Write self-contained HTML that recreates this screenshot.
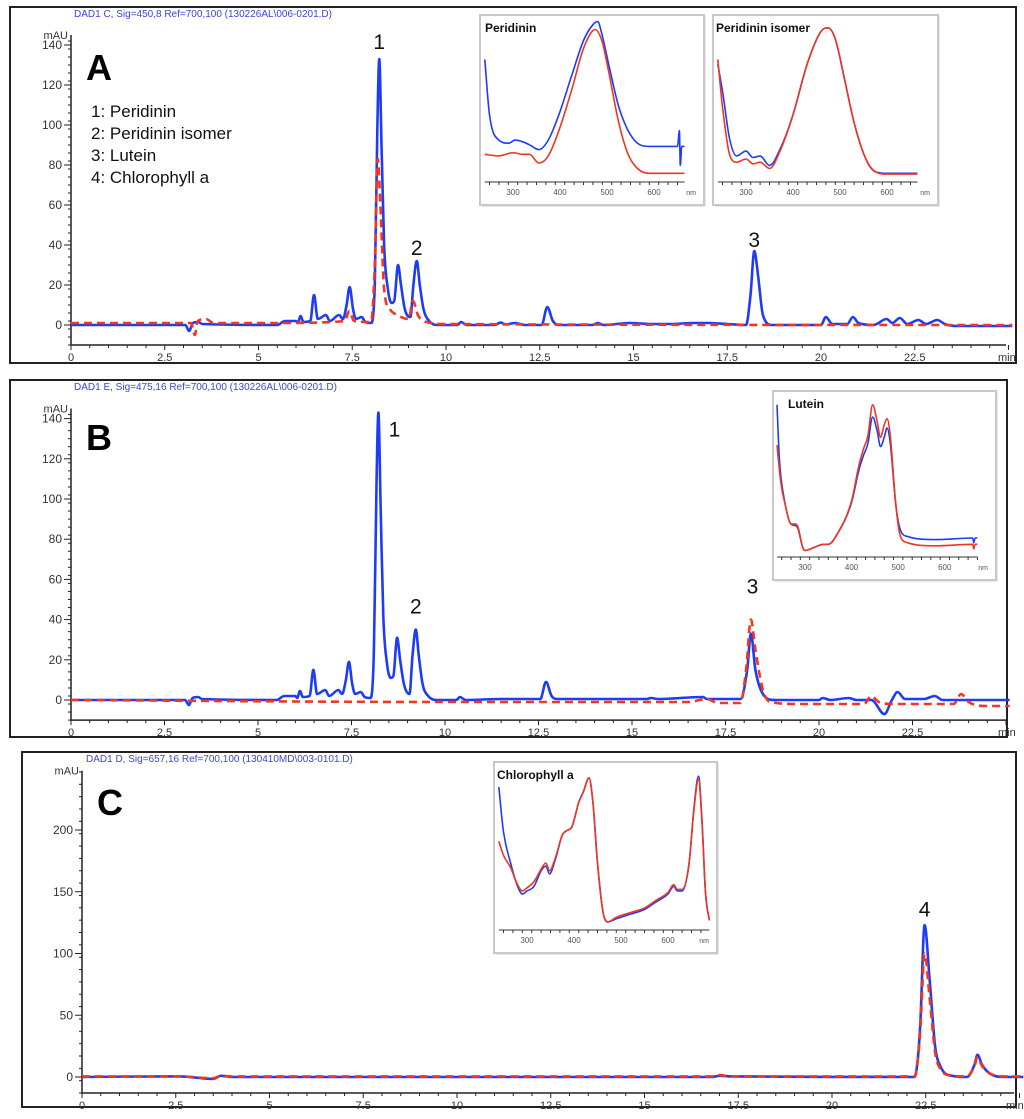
<!DOCTYPE html>
<html><head><meta charset="utf-8"><style>
html,body{margin:0;padding:0;background:#fff;}
svg{display:block;font-family:"Liberation Sans",sans-serif;}
</style></head><body>
<svg id="fig" width="1024" height="1119" viewBox="0 0 1024 1119">
<g id="layer"></g>
</svg>
<script>
// ---------- Chromatogram data (time min, mAU) ----------
const aBlueT=[0,3.05,3.15,3.25,3.4,3.5,5.5,5.7,6.0,6.05,6.12,6.2,6.38,6.48,6.58,6.8,6.9,7.15,7.25,7.35,7.43,7.52,7.6,7.75,7.85,8.0,8.1,8.17,8.22,8.28,8.35,8.45,8.55,8.62,8.72,8.8,8.9,9.05,9.13,9.22,9.3,9.4,9.55,9.8,10.3,10.4,10.55,11.3,11.45,11.6,11.85,12.1,12.55,12.7,12.85,13.0,13.9,14.05,14.2,14.9,15.5,16.0,16.6,17.0,17.5,18.0,18.12,18.22,18.32,18.45,18.7,20.0,20.13,20.3,20.7,20.85,21.0,21.4,21.75,21.9,22.1,22.3,22.6,22.8,23.1,23.3,23.6,25.1];
const aBlueV=[0,0,-3,1,1.5,0.5,0,2,2,1,4.5,1.5,2,15,3,5,2,5,3,10,19,8,3,4,1.5,1,20,100,133,90,40,18,11,12,30,20,8,4,20,32,20,8,2,0,0,1.5,0,0,1.2,0.3,1,0,0,9,2,0,0,1,0,1,0.5,0.5,1,1,0.5,0,15,37,25,5,0,0,4,0.5,0.5,4,1,0,3,1,3.5,0.5,2.5,0.5,2.5,0.5,-0.5,-0.5];
const aRedT=[0,3.2,3.3,3.38,3.6,3.8,5.5,7.3,7.42,7.55,8.0,8.1,8.18,8.25,8.35,8.5,8.7,9.0,9.12,9.25,9.4,10,25.1];
const aRedV=[1,1,-5,2,3,1,1,2,7,2,1.5,30,83,60,18,8,5,3,12,5,2,0.5,0];

const bBlueT=[0,3.05,3.15,3.25,3.4,3.5,5.5,5.7,6.0,6.05,6.12,6.2,6.38,6.48,6.58,6.8,6.9,7.15,7.25,7.35,7.43,7.52,7.6,7.75,7.85,8.0,8.1,8.17,8.22,8.28,8.35,8.45,8.55,8.62,8.72,8.8,8.9,9.05,9.13,9.22,9.3,9.4,9.55,9.8,10.3,10.4,10.55,11.5,12.55,12.7,12.85,13.0,15.4,15.5,15.7,16.9,17.0,17.9,18.08,18.18,18.3,18.5,18.8,20.0,20.1,20.3,20.8,21.0,21.4,21.75,21.95,22.1,22.3,22.8,23.1,23.3,25.1];
const bBlueV=[0,0,-2.5,1,1.5,0.5,0,2,2,1,4.5,1.5,2,15,3,5,2,5,3,10,19,8,3,4,1.5,1,25,110,143,95,42,18,11,12,31,20,8,3,22,35,22,8,2,0,0,1.5,0,0.5,0.5,9,2,0.5,0.5,1,0.5,1.5,0.5,0.5,15,33,15,3,0,0,1,0,1,0,0,-7,0,4,0.5,0.5,2,0,0];
const bRedT=[0,10,16.5,17.0,17.3,17.9,18.05,18.18,18.3,18.5,18.7,19.5,21.2,21.4,21.6,22.0,23.6,23.8,24.0,24.5,25.1];
const bRedV=[0,-1,-1,0.5,-1.5,-1.5,15,40,25,5,-1,-2,-2,2,-1,-2,-2,3,-1,-3,-3];

const cBlueT=[0,2.3,2.6,3.5,3.7,4,16.8,17.0,17.3,22.2,22.35,22.47,22.6,22.75,22.9,23.2,23.6,23.8,23.88,24.0,24.2,24.6,25.1];
const cBlueV=[0,0.5,0.5,-1.5,1,0,0,1,0.5,0,40,123,80,25,8,1,0,10,18,10,3,0,0];
const cRedT=[0,2.3,2.6,3.5,3.7,4,16.8,17.0,17.3,22.2,22.35,22.47,22.6,22.75,22.9,23.2,23.6,23.8,23.88,24.0,24.2,24.6,25.1];
const cRedV=[0.5,0.5,0.5,-1,1,0.5,0.5,1.5,0.5,0.5,35,100,65,20,6,1,0.5,9,16,9,3,0.5,0.5];

// ---------- Spectra data (nm, relative absorbance 0-100) ----------
const perBlueNm=[240,250,270,290,305,320,335,355,375,400,425,450,470,480,490,505,525,545,565,590,650,654,656,659,665];
const perBlueA=[75,40,24,22,24,23,21,18,24,42,65,87,97,99,90,70,45,30,22,20,20,30,8,20,20];
const perRedNm=[240,270,300,320,335,355,375,400,425,450,475,490,505,525,545,565,590,665];
const perRedA=[15,14,16,15,15,9.5,14,32,56,82,94,86,65,35,15,6,3,3];
const isoBlueNm=[240,250,265,280,300,315,330,350,375,400,430,460,475,490,510,530,555,575,600,665];
const isoBlueA=[72,55,25,14,17,13,14,8,20,40,72,93,95,88,62,35,12,4,3,3];
const isoRedNm=[240,250,265,280,300,315,330,350,375,400,430,460,475,490,510,530,555,575,600,665];
const isoRedA=[75,45,15,10,12,9,10,6,19,40,72,93,95,88,62,35,12,4,2.5,2.5];
const lutBlueNm=[240,245,255,270,280,285,295,300,320,340,350,370,400,415,425,435,445,455,462,470,476,483,495,505,520,580,660,662,665,670];
const lutBlueA=[95,60,35,18,17,15,3,1,3,5,5,12,32,52,62,70,87,78,68,74,80,70,30,14,10,8,9,6,9,9];
const lutRedNm=[240,248,258,270,280,285,295,300,320,340,350,370,400,415,425,435,445,455,462,470,476,483,495,505,520,580,660,662,665,670];
const lutRedA=[69,45,30,18,18,16,3,1,3,5,5,12,33,55,66,75,95,84,74,82,86,75,30,10,6,4,5,2,5,5];
const chlBlueNm=[240,250,265,280,290,300,315,330,340,348,360,375,385,395,410,420,432,440,450,462,472,490,520,550,575,600,612,620,630,645,655,665,672,680,688];
const chlBlueA=[89,60,40,25,20,22,25,35,38,33,42,58,61,63,79,86,95,80,40,8,2,4,7,10,15,20,25,22,22,40,75,96,70,20,3];
const chlRedNm=[240,250,265,280,290,300,315,330,340,348,360,375,385,395,410,420,432,440,450,462,472,490,520,550,575,600,612,620,630,645,655,665,672,680,688];
const chlRedA=[54,45,37,26,22,24,28,36,40,35,43,58,61,63,79,86,95,80,40,8,2,5,8,11,16,21,26,23,23,40,74,94,68,20,3];

const xTicks=[0,2.5,5,7.5,10,12.5,15,17.5,20,22.5];
const xTickLabels=["0","2.5","5","7.5","10","12.5","15","17.5","20","22.5"];
const abYTicks=[0,20,40,60,80,100,120,140];
const cYTicks=[0,50,100,150,200];
const nmTicks=[300,400,500,600];

const NS="http://www.w3.org/2000/svg";
const layer=document.getElementById('layer');
function mk(tag,attrs,parent){const e=document.createElementNS(NS,tag);for(const k in attrs)e.setAttribute(k,attrs[k]);(parent||layer).appendChild(e);return e;}
function txt(s,attrs,parent){const e=mk('text',attrs,parent);e.textContent=s;return e;}
// monotone cubic path through pixel points
function pathFrom(xs,ys,fx,fy){
  const X=xs.map(fx),Y=ys.map(fy),n=X.length;
  if(n<3){let d='';for(let i=0;i<n;i++)d+=(i?'L':'M')+X[i]+','+Y[i];return d;}
  const dl=[],m=new Array(n);
  for(let i=0;i<n-1;i++)dl.push((Y[i+1]-Y[i])/(X[i+1]-X[i]||1e-6));
  m[0]=dl[0];m[n-1]=dl[n-2];
  for(let i=1;i<n-1;i++){m[i]=(dl[i-1]*dl[i]<=0)?0:(dl[i-1]+dl[i])/2;}
  for(let i=0;i<n-1;i++){if(dl[i]===0){m[i]=0;m[i+1]=0;continue;}
    const a=m[i]/dl[i],b=m[i+1]/dl[i],s=a*a+b*b;if(s>9){const t=3/Math.sqrt(s);m[i]=t*a*dl[i];m[i+1]=t*b*dl[i];}}
  let d='M'+X[0].toFixed(1)+','+Y[0].toFixed(1);
  for(let i=0;i<n-1;i++){const h=(X[i+1]-X[i])/3;
    d+='C'+(X[i]+h).toFixed(1)+','+(Y[i]+m[i]*h).toFixed(1)+' '+(X[i+1]-h).toFixed(1)+','+(Y[i+1]-m[i+1]*h).toFixed(1)+' '+X[i+1].toFixed(1)+','+Y[i+1].toFixed(1);}
  return d;
}

function panel(p){
  const g=mk('g',{});
  
  
  const fr=mk('rect',{x:p.frame[0],y:p.frame[1],width:p.frame[2]-p.frame[0],height:p.frame[3]-p.frame[1],fill:'none',stroke:'#222','stroke-width':2},g);
  
  
  const X=t=>p.x0+t*p.kx, Y=v=>p.y0-v*p.ky;
  const axY=Y(p.axisMin);
  const title=txt(p.title,{x:p.titleX,y:p.titleY,'font-size':10,fill:'#3a44e0'},g);
  
  
  const ax=mk('path',{d:`M${p.x0},${Y(p.yTop)}V${axY}H${p.xEnd}`,stroke:'#222','stroke-width':1.5,fill:'none'},g);
  
  
  for(let t=0;t<=25.01;t+=0.5){const major=Math.abs(t/2.5-Math.round(t/2.5))<1e-6;mk('line',{x1:X(t),x2:X(t),y1:axY,y2:axY+(major?5:3),stroke:'#222','stroke-width':1},g);}
  xTicks.forEach((t,i)=>{const l=txt(xTickLabels[i],{x:X(t),y:axY+16,'font-size':11,fill:'#333','text-anchor':'middle'},g);
    
    });
  const mn=txt('min',{x:p.xEnd-8,y:axY+16,'font-size':11,fill:'#333'},g);
  
  
  for(let v=p.axisMin;v<=p.yTop;v+=p.minorY){mk('line',{x1:p.x0-3,x2:p.x0,y1:Y(v),y2:Y(v),stroke:'#222','stroke-width':1},g);}
  p.yTicks.forEach(v=>{mk('line',{x1:p.x0-7,x2:p.x0,y1:Y(v),y2:Y(v),stroke:'#222','stroke-width':1},g);
    const l=txt(String(v),{x:p.x0-9,y:Y(v)+4,'font-size':12,fill:'#333','text-anchor':'end'},g);
    
    });
  const mau=txt('mAU',{x:p.x0-3,y:Y(p.yTop)+4,'font-size':11,fill:'#333','text-anchor':'end'},g);
  
  
  const b=mk('path',{d:pathFrom(p.bt,p.bv,X,Y),stroke:'#1e3cf5','stroke-width':2.6,fill:'none','stroke-linejoin':'round'},g);
  
  
  const r=mk('path',{d:pathFrom(p.rt,p.rv,X,Y),stroke:'#f5361e','stroke-width':2.6,fill:'none','stroke-dasharray':'8,5','stroke-linejoin':'round'},g);
  
  
  const L=txt(p.letter,{x:p.letterX,y:p.letterY,'font-size':36,'font-weight':'bold',fill:'#000'},g);
  
  
  p.peaks.forEach(k=>{const e=txt(k[0],{x:X(k[1]),y:Y(k[2]),'font-size':21,fill:'#111','text-anchor':'middle'},g);
    
    });
  return g;
}

function inset(s){
  const g=mk('g',{});
  
  
  mk('rect',{x:s.box[0]+2,y:s.box[1]+2,width:s.box[2]-s.box[0],height:s.box[3]-s.box[1],fill:'#e8e8e8'},g);
  mk('rect',{x:s.box[0],y:s.box[1],width:s.box[2]-s.box[0],height:s.box[3]-s.box[1],fill:'#fff',stroke:'#c8c8c8','stroke-width':2},g);
  const X=n=>s.x300+(n-300)*s.kx, Y=a=>s.yb-a*s.ky;
  const ax=mk('line',{x1:X(240),x2:X(s.nmEnd),y1:s.axisY,y2:s.axisY,stroke:'#333','stroke-width':1},g);
  
  
  for(let n=250;n<=s.nmEnd;n+=20){mk('line',{x1:X(n),x2:X(n),y1:s.axisY,y2:s.axisY+3,stroke:'#333','stroke-width':1},g);}
  nmTicks.forEach(n=>{const l=txt(String(n),{x:X(n),y:s.axisY+13,'font-size':8,fill:'#555','text-anchor':'middle'},g);
    
    });
  const nm=txt('nm',{x:s.box[2]-8,y:s.axisY+13,'font-size':7,fill:'#555','text-anchor':'end'},g);
  
  
  const b=mk('path',{d:pathFrom(s.bn,s.ba,X,Y),stroke:'#1e3cf5','stroke-width':1.6,fill:'none'},g);
  
  
  const r=mk('path',{d:pathFrom(s.rn,s.ra,X,Y),stroke:'#f0361e','stroke-width':1.6,fill:'none'},g);
  
  
  const t=txt(s.title,{x:s.box[0]+s.tx,y:s.box[1]+17,'font-size':12,'font-weight':'bold',fill:'#111'},g);
  
  
}

panel({name:'panel-a',frame:[10,7,1016,363],x0:71,kx:37.5,y0:325,ky:2,axisMin:-10,yTop:145,minorY:4,xEnd:1006,yTicks:abYTicks,
  title:'DAD1 C, Sig=450,8 Ref=700,100 (130226AL\\006-0201.D)',titleX:74,titleY:17,bt:aBlueT,bv:aBlueV,rt:aRedT,rv:aRedV,
  letter:'A',letterX:86,letterY:80,peaks:[['1',8.22,138],['2',9.22,35],['3',18.22,39]]});
panel({name:'panel-b',frame:[10,380,1007,737],x0:71,kx:37.4,y0:700,ky:2.01,axisMin:-10,yTop:145,minorY:4,xEnd:1006,yTicks:abYTicks,
  title:'DAD1 E, Sig=475,16 Ref=700,100 (130226AL\\006-0201.D)',titleX:74,titleY:390,bt:bBlueT,bv:bBlueV,rt:bRedT,rv:bRedV,
  letter:'B',letterX:86,letterY:450,peaks:[['1',8.65,131],['2',9.22,43],['3',18.22,53]]});
panel({name:'panel-c',frame:[22,752,1016,1107],x0:82,kx:37.5,y0:1077,ky:1.235,axisMin:-13,yTop:248,minorY:10,xEnd:1014,yTicks:cYTicks,
  title:'DAD1 D, Sig=657,16 Ref=700,100 (130410MD\\003-0101.D)',titleX:86,titleY:762,bt:cBlueT,bv:cBlueV,rt:cRedT,rv:cRedV,
  letter:'C',letterX:97,letterY:815,peaks:[['4',22.47,130]]});

const legendItems=['1: Peridinin','2: Peridinin isomer','3: Lutein','4: Chlorophyll a'];
legendItems.forEach((s,i)=>{const e=txt(s,{x:91,y:117+i*22,'font-size':17,fill:'#111'});
  
  });

inset({name:'inset-peridinin',box:[480,15,704,205],x300:513,kx:0.47,yb:178,ky:1.58,axisY:182,nmEnd:665,title:'Peridinin',tx:5,bn:perBlueNm,ba:perBlueA,rn:perRedNm,ra:perRedA});
inset({name:'inset-peridinin-isomer',box:[713,15,938,205],x300:746,kx:0.47,yb:178,ky:1.58,axisY:182,nmEnd:665,title:'Peridinin isomer',tx:3,bn:isoBlueNm,ba:isoBlueA,rn:isoRedNm,ra:isoRedA});
inset({name:'inset-lutein',box:[773,391,996,580],x300:805,kx:0.466,yb:552,ky:1.55,axisY:557,nmEnd:670,title:'Lutein',tx:15,bn:lutBlueNm,ba:lutBlueA,rn:lutRedNm,ra:lutRedA});
inset({name:'inset-chlorophyll-a',box:[494,762,717,953],x300:527,kx:0.47,yb:925,ky:1.55,axisY:930,nmEnd:688,title:'Chlorophyll a',tx:3,bn:chlBlueNm,ba:chlBlueA,rn:chlRedNm,ra:chlRedA});
</script>
</body></html>
